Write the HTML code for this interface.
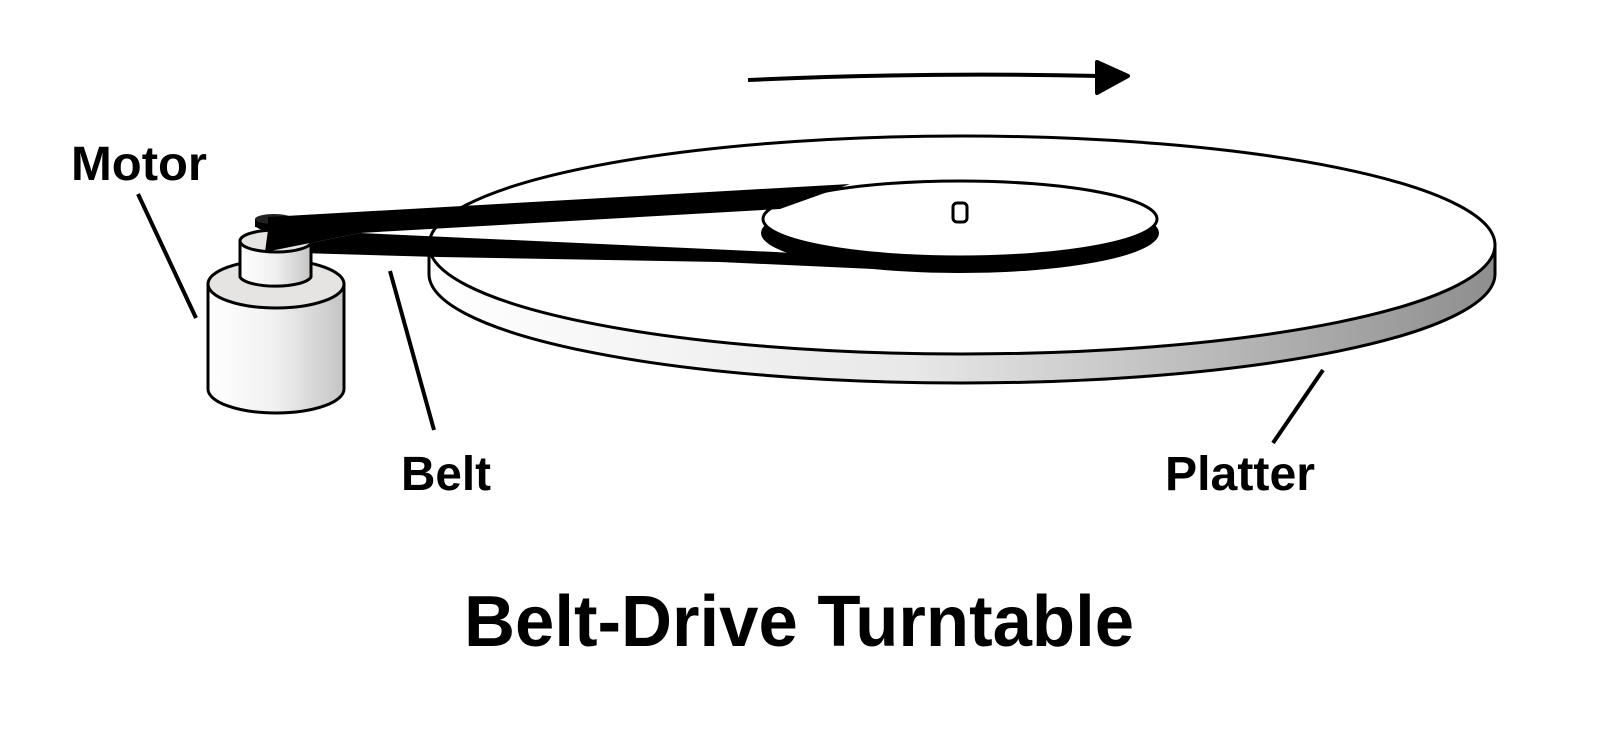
<!DOCTYPE html>
<html><head><meta charset="utf-8"><style>
html,body{margin:0;padding:0;background:#fff;}
svg{display:block;}
text{font-family:"Liberation Sans",sans-serif;font-weight:bold;fill:#000;}
</style></head><body>
<svg width="1600" height="734" viewBox="0 0 1600 734" xmlns="http://www.w3.org/2000/svg">
<defs>
<linearGradient id="edge" x1="0" x2="1" y1="0" y2="0">
<stop offset="0" stop-color="#ffffff"/><stop offset="0.45" stop-color="#e8e8e8"/><stop offset="1" stop-color="#8e8e8e"/>
</linearGradient>
<linearGradient id="cyl" x1="0" x2="1" y1="0" y2="0">
<stop offset="0" stop-color="#ffffff"/><stop offset="0.5" stop-color="#f0f0f0"/><stop offset="1" stop-color="#c4c4c4"/>
</linearGradient>
</defs>

<path d="M748,80 Q920,72 1100,76" fill="none" stroke="#000" stroke-width="4"/>
<path d="M1097,62 L1128,76 L1097,93 Z" fill="#000" stroke="#000" stroke-width="4" stroke-linejoin="round"/>

<path d="M429,245 L429,274 A533,109 0 0 0 1495,274 L1495,245 Z" fill="url(#edge)" stroke="#000" stroke-width="3"/>
<ellipse cx="962" cy="245" rx="533" ry="109" fill="#fff" stroke="#000" stroke-width="3"/>

<polygon points="360,233 775,252 960,263 960,273 720,262 439,257 265,252" fill="#000"/>
<ellipse cx="960" cy="233" rx="199" ry="40" fill="#000"/>
<ellipse cx="960" cy="219" rx="197" ry="38" fill="#fff" stroke="#000" stroke-width="3"/>
<rect x="953" y="203" width="14" height="19" rx="4" fill="#fff" stroke="#000" stroke-width="3"/>

<path d="M208,284 L208,389 A68,24 0 0 0 344,389 L344,284 Z" fill="url(#cyl)" stroke="#000" stroke-width="3"/>
<ellipse cx="276" cy="284" rx="68" ry="24" fill="#e6e3e3" stroke="#000" stroke-width="3"/>
<path d="M240,241 L240,277 A36,11 0 0 0 311,277 L311,241 Z" fill="url(#cyl)" stroke="#000" stroke-width="3"/>
<ellipse cx="276" cy="241" rx="36" ry="11" fill="#e6e3e3" stroke="#000" stroke-width="3"/>
<ellipse cx="274" cy="225" rx="19" ry="6" fill="#000"/>
<rect x="255" y="219" width="38" height="8" fill="#000"/>
<ellipse cx="274" cy="219" rx="19" ry="5" fill="#222"/>

<polygon points="268,217 850,184 780,209 360,233 265,252 268,230" fill="#000"/>

<line x1="138" y1="194" x2="196" y2="318" stroke="#000" stroke-width="4"/>
<line x1="390" y1="271" x2="434" y2="430" stroke="#000" stroke-width="4"/>
<line x1="1323" y1="370" x2="1273" y2="443" stroke="#000" stroke-width="4"/>

<text x="71" y="180" font-size="48" textLength="136" lengthAdjust="spacingAndGlyphs">Motor</text>
<text x="401" y="490" font-size="48" textLength="90" lengthAdjust="spacingAndGlyphs">Belt</text>
<text x="1165" y="490" font-size="48" textLength="150" lengthAdjust="spacingAndGlyphs">Platter</text>
<text x="464" y="646" font-size="72" textLength="670" lengthAdjust="spacingAndGlyphs">Belt-Drive Turntable</text>
</svg>
</body></html>
